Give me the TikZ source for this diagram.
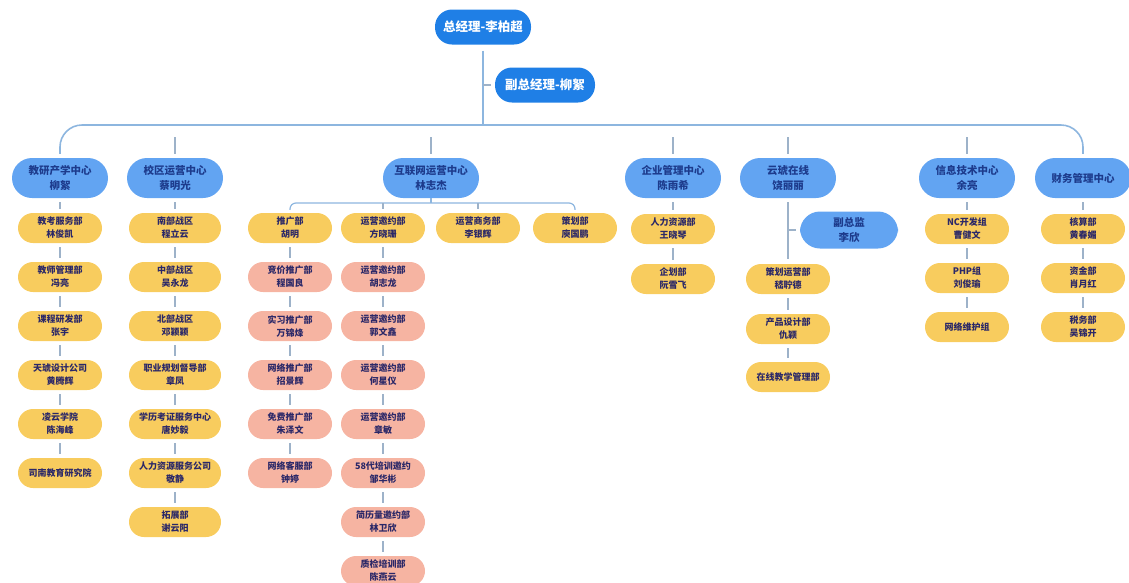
\documentclass[tikz,border=0pt]{standalone}
\usepackage{fontspec}
\usepackage{tikz}
\newfontfamily\cjk{Noto Sans CJK SC}
\definecolor{topblue}{HTML}{1F7FE6}
\definecolor{midblue}{HTML}{62A4F2}
\definecolor{deptyellow}{HTML}{F8CC5E}
\definecolor{deptpink}{HTML}{F6B4A2}
\definecolor{inkblue}{HTML}{1D3B8C}
\definecolor{inknavy}{HTML}{2B2868}
\definecolor{busline}{HTML}{8DB6DF}
\definecolor{tickline}{HTML}{9DB2C9}

\begin{document}
\begin{tikzpicture}
  [x=1pt,y=-1pt,
   every node/.style={font=\cjk,align=center},
   boss/.style={fill=topblue,text=white,rounded corners=17pt,minimum width=96pt,minimum height=35pt,font=\cjk\bfseries\fontsize{12.5}{15}\selectfont},
   center/.style={fill=midblue,text=inkblue,rounded corners=20pt,minimum width=96pt,minimum height=40pt,font=\cjk\bfseries\fontsize{10.5}{15}\selectfont},
   dept/.style={fill=deptyellow,text=inknavy,rounded corners=15pt,minimum width=84pt,minimum height=30pt,font=\cjk\bfseries\fontsize{9}{13}\selectfont},
   team/.style={dept,fill=deptpink},
   bus/.style={draw=busline,line width=1.6pt,rounded corners=22pt},
   tick/.style={draw=tickline,line width=1.2pt,shorten >=4pt,shorten <=4pt}]
  \useasboundingbox (0,0) rectangle (1129,582);

  % top
  \node[boss] (gm) at (483,27) {总经理-李柏超};
  \node[boss,minimum width=100pt] (dgm) at (545,85) {副总经理-柳絮};

  % centers
  \node[center] (c1) at (60,178) {教研产学中心\\柳絮};
  \node[center] (c2) at (175,178) {校区运营中心\\蔡明光};
  \node[center] (c3) at (431,178) {互联网运营中心\\林志杰};
  \node[center] (c4) at (673,178) {企业管理中心\\陈雨希};
  \node[center] (c5) at (788,178) {云琥在线\\饶丽丽};
  \node[center] (c6) at (967,178) {信息技术中心\\余亮};
  \node[center] (c7) at (1083,178) {财务管理中心};

  % 教研产学中心
  \node[dept] (c1a) at (60,228) {教考服务部\\林俊凯};
  \node[dept] (c1b) at (60,277) {教师管理部\\冯亮};
  \node[dept] (c1c) at (60,326) {课程研发部\\张宇};
  \node[dept] (c1d) at (60,375) {天琥设计公司\\黄腾辉};
  \node[dept] (c1e) at (60,424) {凌云学院\\陈海峰};
  \node[dept] (c1f) at (60,473) {司南教育研究院};

  % 校区运营中心
  \node[dept,minimum width=92pt] (c2a) at (175,228) {南部战区\\程立云};
  \node[dept,minimum width=92pt] (c2b) at (175,277) {中部战区\\吴永龙};
  \node[dept,minimum width=92pt] (c2c) at (175,326) {北部战区\\邓颖颖};
  \node[dept,minimum width=92pt] (c2d) at (175,375) {职业规划督导部\\章凤};
  \node[dept,minimum width=92pt] (c2e) at (175,424) {学历考证服务中心\\唐妙毅};
  \node[dept,minimum width=92pt] (c2f) at (175,473) {人力资源服务公司\\敬静};
  \node[dept,minimum width=92pt] (c2g) at (175,522) {拓展部\\谢云阳};

  % 互联网运营中心
  \node[dept] (c3a) at (290,228) {推广部\\胡明};
  \node[team] (c3a1) at (290,277) {竞价推广部\\程国良};
  \node[team] (c3a2) at (290,326) {实习推广部\\万锦烽};
  \node[team] (c3a3) at (290,375) {网络推广部\\招景辉};
  \node[team] (c3a4) at (290,424) {免费推广部\\朱泽文};
  \node[team] (c3a5) at (290,473) {网络客服部\\钟婷};
  \node[dept] (c3b) at (383,228) {运营邀约部\\方晓珊};
  \node[team] (c3b1) at (383,277) {运营邀约部\\胡志龙};
  \node[team] (c3b2) at (383,326) {运营邀约部\\郭文鑫};
  \node[team] (c3b3) at (383,375) {运营邀约部\\何星仪};
  \node[team] (c3b4) at (383,424) {运营邀约部\\章敏};
  \node[team] (c3b5) at (383,473) {58代培训邀约\\邹华彬};
  \node[team] (c3b6) at (383,522) {简历量邀约部\\林卫欣};
  \node[team] (c3b7) at (383,571) {质检培训部\\陈燕云};
  \node[dept] (c3c) at (478,228) {运营商务部\\李银辉};
  \node[dept] (c3d) at (575,228) {策划部\\庾国鹏};

  % 企业管理中心
  \node[dept] (c4a) at (673,229) {人力资源部\\王晓琴};
  \node[dept] (c4b) at (673,279) {企划部\\阮雪飞};

  % 云琥在线
  \node[center,minimum width=98pt,minimum height=37pt] (c5v) at (849,230) {副总监\\李欣};
  \node[dept] (c5a) at (788,279) {策划运营部\\嵇聍德};
  \node[dept] (c5b) at (788,329) {产品设计部\\仇颖};
  \node[dept] (c5c) at (788,377) {在线教学管理部};

  % 信息技术中心
  \node[dept] (c6a) at (967,229) {NC开发组\\曹健文};
  \node[dept] (c6b) at (967,278) {PHP组\\刘俊瑜};
  \node[dept] (c6c) at (967,327) {网络维护组};

  % 财务管理中心
  \node[dept] (c7a) at (1083,229) {核算部\\黄春媚};
  \node[dept] (c7b) at (1083,278) {资金部\\肖月红};
  \node[dept] (c7c) at (1083,327) {税务部\\吴锦开};

  % main bus
  \coordinate (b0) at (483,125);
  \coordinate (b2) at (175,125);
  \coordinate (b3) at (431,125);
  \coordinate (b4) at (673,125);
  \coordinate (b5) at (788,125);
  \coordinate (b6) at (967,125);
  \draw[bus,shorten <=4pt,shorten >=4pt] (c1.north) |- (b0) -| (c7.north);
  \draw[bus,rounded corners=0pt,shorten <=6pt] (gm) -- (b0);
  \coordinate (d0) at (483,85);
  \draw[tick,shorten <=0pt] (d0) -- (dgm);
  \draw[tick,shorten <=12pt] (b2) -- (c2);
  \draw[tick,shorten <=12pt] (b3) -- (c3);
  \draw[tick,shorten <=12pt] (b4) -- (c4);
  \draw[tick,shorten <=12pt] (b5) -- (c5);
  \draw[tick,shorten <=12pt] (b6) -- (c6);

  % 互联网 bus
  \coordinate (s0) at (431,203);
  \coordinate (s2) at (383,203);
  \coordinate (s3) at (478,203);
  \draw[bus,line width=1.2pt,rounded corners=6pt,shorten <=3pt,shorten >=3pt] (c3a.north) |- (s0) -| (c3d.north);
  \draw[bus,line width=1.2pt] (c3) -- (s0);
  \draw[tick,shorten <=0pt] (s2) -- (c3b);
  \draw[tick,shorten <=0pt] (s3) -- (c3c);

  % columns
  \draw[tick] (c1) -- (c1a);
  \draw[tick] (c1a) -- (c1b);
  \draw[tick] (c1b) -- (c1c);
  \draw[tick] (c1c) -- (c1d);
  \draw[tick] (c1d) -- (c1e);
  \draw[tick] (c1e) -- (c1f);
  \draw[tick] (c2) -- (c2a);
  \draw[tick] (c2a) -- (c2b);
  \draw[tick] (c2b) -- (c2c);
  \draw[tick] (c2c) -- (c2d);
  \draw[tick] (c2d) -- (c2e);
  \draw[tick] (c2e) -- (c2f);
  \draw[tick] (c2f) -- (c2g);
  \draw[tick] (c3a) -- (c3a1);
  \draw[tick] (c3a1) -- (c3a2);
  \draw[tick] (c3a2) -- (c3a3);
  \draw[tick] (c3a3) -- (c3a4);
  \draw[tick] (c3a4) -- (c3a5);
  \draw[tick] (c3b) -- (c3b1);
  \draw[tick] (c3b1) -- (c3b2);
  \draw[tick] (c3b2) -- (c3b3);
  \draw[tick] (c3b3) -- (c3b4);
  \draw[tick] (c3b4) -- (c3b5);
  \draw[tick] (c3b5) -- (c3b6);
  \draw[tick] (c3b6) -- (c3b7);
  \draw[tick] (c4) -- (c4a);
  \draw[tick] (c4a) -- (c4b);
  \draw[tick,shorten >=5pt] (c5) -- (c5a);
  \coordinate (v5) at (788,230);
  \draw[tick,shorten <=0pt] (v5) -- (c5v);
  \draw[tick] (c5a) -- (c5b);
  \draw[tick] (c5b) -- (c5c);
  \draw[tick] (c6) -- (c6a);
  \draw[tick] (c6a) -- (c6b);
  \draw[tick] (c6b) -- (c6c);
  \draw[tick] (c7) -- (c7a);
  \draw[tick] (c7a) -- (c7b);
  \draw[tick] (c7b) -- (c7c);
\end{tikzpicture}
\end{document}
